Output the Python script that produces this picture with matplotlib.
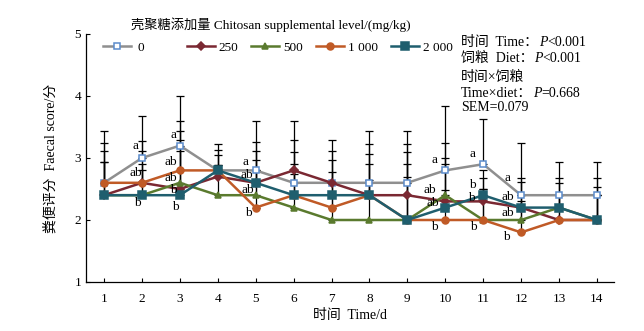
import matplotlib
matplotlib.use("Agg")
import matplotlib.pyplot as plt
import numpy as np

plt.rcParams['font.family'] = ['Liberation Serif', 'Noto Sans CJK SC']

days = list(range(1, 15))
levels = ["0", "250", "500", "1 000", "2 000"]

s0    = [2.6, 3.0, 3.2, 2.8, 2.8, 2.6, 2.6, 2.6, 2.6, 2.8, 2.9, 2.4, 2.4, 2.4]
s250  = [2.4, 2.6, 2.5, 2.7, 2.6, 2.8, 2.6, 2.4, 2.4, 2.3, 2.3, 2.2, 2.0, 2.0]
s500  = [2.4, 2.4, 2.6, 2.4, 2.4, 2.2, 2.0, 2.0, 2.0, 2.4, 2.0, 2.0, 2.2, 2.0]
s1000 = [2.6, 2.6, 2.8, 2.8, 2.2, 2.4, 2.2, 2.4, 2.0, 2.0, 2.0, 1.8, 2.0, 2.0]
s2000 = [2.4, 2.4, 2.4, 2.8, 2.6, 2.4, 2.4, 2.4, 2.0, 2.2, 2.4, 2.2, 2.2, 2.0]

e0    = [0.84, 0.67, 0.80, 0.43, 0.79, 0.69, 0.69, 0.84, 0.84, 1.04, 0.73, 0.84, 0.53, 0.53]
e250  = [0.71, 0.51, 0.79, 0.18, 0.52, 0.79, 0.52, 0.83, 0.83, 0.70, 0.37, 0.42, 0.40, 0.54]
e500  = [0.53, 0.40, 0.84, 0.48, 0.56, 0.55, 0.60, 0.64, 0.70, 0.84, 0.50, 0.40, 0.40, 0.40]
e1000 = [0.65, 0.68, 0.79, 0.33, 0.60, 0.51, 0.57, 0.51, 0.91, 0.48, 0.50, 0.50, 0.40, 0.40]
e2000 = [0.53, 0.50, 0.72, 0.25, 0.66, 0.70, 0.57, 0.67, 1.10, 0.70, 0.40, 0.48, 0.47, 0.68]

# significance letters: (day, score, label)
letters = [
    (1.82, 3.20, "a"), (1.85, 2.75, "ab"), (1.87, 2.28, "b"),
    (2.84, 3.37, "a"), (2.75, 2.94, "ab"), (2.75, 2.68, "ab"), (2.84, 2.49, "b"), (2.89, 2.21, "b"),
    (4.73, 2.93, "a"), (4.76, 2.72, "ab"), (4.80, 2.48, "ab"), (4.80, 2.11, "b"),
    (9.72, 2.96, "a"), (9.60, 2.48, "ab"), (9.68, 2.27, "ab"), (9.72, 1.88, "b"),
    (10.72, 3.07, "a"), (10.72, 2.56, "b"), (10.70, 2.35, "b"), (10.74, 1.88, "b"),
    (11.65, 2.68, "a"), (11.66, 2.37, "ab"), (11.66, 2.11, "ab"), (11.62, 1.73, "b"),
]

# stats lines: list of (text, italic) pieces
stats = [
    [("时间  Time：", False), ("P", True), ("<0.001", False)],
    [("饲粮  Diet：", False), ("P", True), ("<0.001", False)],
    [("时间×饲粮", False)],
    [("Time×diet：", False), ("P", True), ("=0.668", False)],
    [("SEM=0.079", False)],
]

series = [s0, s250, s500, s1000, s2000]
errs = [e0, e250, e500, e1000, e2000]
line_colors = ["#8f8f8f", "#7a2832", "#5a7a2e", "#c05a26", "#1f5e6e"]
marker_face = ["white", "#7a2832", "#5a7a2e", "#c05a26", "#1f5e6e"]
marker_edge = ["#5b8ccc", "#7a2832", "#5a7a2e", "#c05a26", "#1f5e6e"]
markers = ["s", "D", "^", "o", "s"]
msizes = [5, 4.5, 5, 5, 5.5]

fig = plt.figure(figsize=(6.44, 3.31), dpi=100)
ax = fig.add_axes([86/644, 1-282/331, 528/644, 248/331])

for v, e in zip(series, errs):
    ax.errorbar(days, v, yerr=[np.zeros(len(e)), e], fmt='none', ecolor='black',
                elinewidth=0.9, capsize=3, capthick=0.9, zorder=1)

handles = []
for v, lab, lc, mf, me, mk, ms in zip(series, levels, line_colors, marker_face, marker_edge, markers, msizes):
    h, = ax.plot(days, v, color=lc, lw=1.8, marker=mk, ms=ms, mfc=mf, mec=me,
                 mew=1.1, label=lab, zorder=3)
    handles.append(h)

for d, y, t in letters:
    ax.text(d, y, t, fontsize=9.5, ha='center', va='center', zorder=4)

ax.set_xlim(0.525, 14.45)
ax.set_ylim(1, 5)
ax.set_xticks(days)
ax.set_yticks([1, 2, 3, 4, 5])
ax.tick_params(direction='in', length=3, width=0.8, labelsize=9.5)
ax.tick_params(axis='x', pad=8)
for sp in ['top', 'right']:
    ax.spines[sp].set_visible(False)
for sp in ['left', 'bottom']:
    ax.spines[sp].set_linewidth(0.9)

ax.set_xlabel("时间  Time/d", fontsize=10, labelpad=3)
ax.set_ylabel("粪便评分  Faecal score/分", fontsize=10, labelpad=12)

leg1 = ax.legend(handles=handles[:1], loc='center left', bbox_to_anchor=(0.032, 0.945),
                 frameon=False, fontsize=9.5, handlelength=2.1, handletextpad=0.5,
                 borderpad=0, borderaxespad=0)
ax.add_artist(leg1)
ax.legend(handles=handles[1:], loc='center left', bbox_to_anchor=(0.191, 0.945),
          frameon=False, fontsize=9.5, ncol=4, handlelength=2.1, handletextpad=0.3,
          columnspacing=1.0, borderpad=0, borderaxespad=0)

ax.text(0.350, 1.036, "壳聚糖添加量 Chitosan supplemental level/(mg/kg)", transform=ax.transAxes,
        ha='center', va='center', fontsize=9.5)

ys = [46, 62, 81, 97, 111]
for pieces, yp in zip(stats, ys):
    prev = ax.text((461-86)/528, (282-yp)/248, pieces[0][0], transform=ax.transAxes,
                   ha='left', va='baseline', fontsize=10)
    for txt, it in pieces[1:]:
        prev = ax.annotate(txt, xy=(1, 0), xycoords=prev, xytext=(0.5 if it else 0, 0),
                           textcoords='offset points', ha='left', va='bottom',
                           fontsize=10, style='italic' if it else 'normal')

fig.savefig("out.png", dpi=100)
